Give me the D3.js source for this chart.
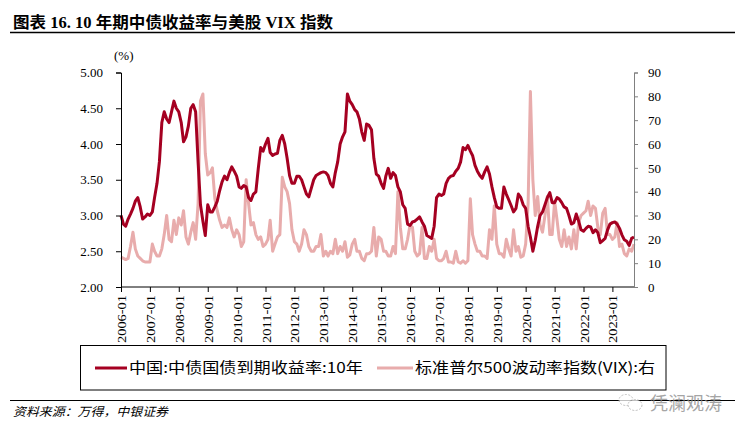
<!DOCTYPE html>
<html><head><meta charset="utf-8">
<script src="https://cdn.jsdelivr.net/npm/d3@7"></script>
<style>
html,body{margin:0;padding:0;background:#fff;}
svg{display:block;}
</style>
</head><body>
<svg id="c" width="745" height="436"></svg>
<script>
// ---- data ----
const startMonth = "2006-01";
// China 10Y government bond yield (%), monthly, 2006-01 .. 2023-10
const cnYield = [
 3.00,2.88,2.85,2.95,3.02,3.10,3.20,3.25,3.12,2.95,2.98,3.02,
 3.00,3.05,3.25,3.45,3.75,4.30,4.45,4.35,4.30,4.45,4.60,4.50,
 4.45,4.30,4.03,4.10,4.25,4.50,4.55,4.45,3.75,3.15,2.92,2.72,
 3.15,3.05,3.05,3.12,3.20,3.35,3.47,3.55,3.50,3.60,3.68,3.62,
 3.55,3.40,3.38,3.42,3.40,3.25,3.21,3.30,3.33,3.65,3.95,3.90,
 4.00,4.08,3.88,3.84,3.86,3.87,4.05,4.12,4.00,3.80,3.56,3.45,
 3.45,3.55,3.55,3.50,3.40,3.30,3.26,3.38,3.50,3.56,3.58,3.60,
 3.61,3.60,3.56,3.45,3.40,3.60,3.75,4.00,4.10,4.17,4.70,4.60,
 4.55,4.48,4.45,4.35,4.17,4.05,4.28,4.26,4.20,3.80,3.58,3.55,
 3.45,3.38,3.55,3.66,3.52,3.60,3.56,3.40,3.33,3.15,3.10,2.88,
 2.86,2.91,2.92,2.95,2.98,2.91,2.85,2.72,2.70,2.68,2.85,3.25,
 3.30,3.28,3.30,3.45,3.52,3.55,3.56,3.62,3.66,3.75,3.95,3.92,
 3.98,3.90,3.84,3.70,3.62,3.56,3.52,3.61,3.68,3.58,3.40,3.25,
 3.12,3.10,3.10,3.40,3.30,3.22,3.14,3.05,3.10,3.30,3.25,3.15,
 3.10,2.85,2.70,2.50,2.65,2.85,3.00,3.05,3.15,3.25,3.32,3.18,
 3.18,3.25,3.23,3.18,3.12,3.10,3.00,2.88,2.90,3.02,2.92,2.80,
 2.78,2.82,2.85,2.84,2.76,2.80,2.76,2.62,2.65,2.68,2.80,2.88,
 2.90,2.91,2.88,2.82,2.73,2.66,2.64,2.58,2.68,2.70
];
// S&P 500 volatility index (VIX), monthly, 2006-01 .. 2023-10
const vix = [
 12.5,12,11.5,12,17,23,16,13,12,11,10.5,10.5,
 10.5,18,15,13,13,16,22,30,20,19,28,22,
 29,26,32,21,18,23,27,20,35,78,81,56,
 47,48,50,37,32,28,25,26,25,29,24,21,
 24,22,17,19,45,35,26,27,22,20,21,17,
 18,20,28,15,18,21,22,46,42,40,35,24,
 19,18,15,18,24,22,17,15,15,17,17,22,
 13,15,13,15,14,20,14,17,15,19,12.5,13.5,
 18,20,15,15,12,11,14,14,15,25,13,21,
 20,15,15,13,13,17,14,40,25,16,16,20,
 26,25,15,13,14,25,12,12,17,15,20,12,
 11,11,12,15,10.5,10.5,10,15,10.5,10,11,10,
 11,37,22,18,15,15,13,13,12,24,20,34,
 18,14,14,12.5,20,16,13,24,15,17,12.5,13,
 18,35,82,45,30,38,26,23,30,38,22,22,
 36,28,20,17,24,17,21,16,24,16,27,30,
 31,32,36,30,34,33,25,22,31,33,22,22,
 20,21,27,17,18,14,13,16,15,18
];
const xTickLabels = ["2006-01","2007-01","2008-01","2009-01","2010-01","2011-01","2012-01","2013-01","2014-01","2015-01","2016-01","2017-01","2018-01","2019-01","2020-01","2021-01","2022-01","2023-01"];
const leftTicks = [2.0,2.5,3.0,3.5,4.0,4.5,5.0];
const rightTicks = [0,10,20,30,40,50,60,70,80,90];
const legendLabels = ["中国:中债国债到期收益率:10年","标准普尔500波动率指数(VIX):右"];
const titleText = "图表 16. 10 年期中债收益率与美股 VIX 指数";
const sourceText = "资料来源：万得，中银证券";

// ---- layout ----
const svg = d3.select("#c");
const L = 121, R = 634, T = 72.5, B = 287;
const parseM = d3.timeParse("%Y-%m");
const d0 = parseM(startMonth);
const dates = cnYield.map((_, i) => d3.timeMonth.offset(d0, i));
const x = d3.scaleTime().domain([d0, dates[dates.length - 1]]).range([L, R]);
const yL = d3.scaleLinear().domain([2, 5]).range([B, T]);
const yR = d3.scaleLinear().domain([0, 90]).range([B, T]);
const serif = "'Liberation Serif','Times New Roman',serif";
const cjk = "'Noto Sans CJK SC','Noto Sans',sans-serif";
const cRed = "#A50021", cPink = "#E8ACAC";

// title
svg.append("text").attr("x", 13).attr("y", 28)
  .attr("font-family", serif + ",'Noto Sans CJK SC'").attr("font-weight", "bold")
  .attr("font-size", 16).attr("textLength", 320).attr("lengthAdjust", "spacingAndGlyphs")
  .text(titleText);
svg.append("line").attr("x1", 10).attr("x2", 735).attr("y1", 32.5).attr("y2", 32.5)
  .attr("stroke", "#000").attr("stroke-width", 1.5);

// unit
svg.append("text").attr("x", 114).attr("y", 60).attr("font-family", serif)
  .attr("font-size", 13).text("(%)");

// lines
const lineV = d3.line().x((d, i) => x(dates[i])).y(d => yR(d));
const lineY = d3.line().x((d, i) => x(dates[i])).y(d => yL(d));
svg.append("path").datum(vix).attr("d", lineV).attr("fill", "none")
  .attr("stroke", cPink).attr("stroke-width", 3).attr("stroke-linejoin", "round");
svg.append("path").datum(cnYield).attr("d", lineY).attr("fill", "none")
  .attr("stroke", cRed).attr("stroke-width", 3).attr("stroke-linejoin", "round");

// axes
const axL = svg.append("g").attr("transform", `translate(${L},0)`)
  .call(d3.axisLeft(yL).tickValues(leftTicks).tickFormat(d3.format(".2f")).tickSizeOuter(0).tickSize(5).tickPadding(13));
axL.selectAll("text").attr("font-family", serif).attr("font-size", 13).attr("fill", "#000");
axL.selectAll("line,path").attr("stroke", "#000");

const axR = svg.append("g").attr("transform", `translate(${R},0)`)
  .call(d3.axisRight(yR).tickValues(rightTicks).tickSizeOuter(0).tickSize(4).tickPadding(10));
axR.selectAll("text").attr("font-family", serif).attr("font-size", 13).attr("fill", "#000");
axR.selectAll("line,path").attr("stroke", "#808080");

const xTickDates = xTickLabels.map(parseM);
const axB = svg.append("g").attr("transform", `translate(0,${B})`)
  .call(d3.axisBottom(x).tickValues(xTickDates).tickFormat(d3.timeFormat("%Y-%m")).tickSizeOuter(0).tickSize(5));
axB.select("path.domain").attr("d", `M${L},0H${R}`).attr("stroke", "#000");
axB.selectAll("line").attr("stroke", "#000");
axB.selectAll("text")
  .attr("font-family", serif).attr("font-size", 13).attr("fill", "#000")
  .attr("transform", "rotate(-90)").attr("text-anchor", "end")
  .attr("x", -8).attr("y", 0).attr("dy", "0.35em")
  .attr("textLength", 48).attr("lengthAdjust", "spacingAndGlyphs");

// legend
svg.append("rect").attr("x", 80.5).attr("y", 345.5).attr("width", 585.5).attr("height", 44.5)
  .attr("fill", "none").attr("stroke", "#000").attr("stroke-width", 1);
const legItems = [
  {c: cRed, x1: 95, x2: 127, tx: 129, tl: 234},
  {c: cPink, x1: 377, x2: 413, tx: 415, tl: 240}
];
legItems.forEach((it, i) => {
  svg.append("line").attr("x1", it.x1).attr("x2", it.x2).attr("y1", 368).attr("y2", 368)
    .attr("stroke", it.c).attr("stroke-width", 3);
  svg.append("text").attr("x", it.tx).attr("y", 368).attr("dy", "0.36em")
    .attr("font-family", cjk).attr("font-size", 15)
    .attr("textLength", it.tl).attr("lengthAdjust", "spacingAndGlyphs")
    .text(legendLabels[i]);
});

// footer
svg.append("line").attr("x1", 10).attr("x2", 735).attr("y1", 400.5).attr("y2", 400.5)
  .attr("stroke", "#000").attr("stroke-width", 1);
svg.append("text").attr("x", 13).attr("y", 416).attr("font-family", cjk)
  .attr("font-style", "italic").attr("font-size", 12)
  .attr("textLength", 155).attr("lengthAdjust", "spacingAndGlyphs")
  .text(sourceText);

// watermark
const wm = svg.append("g").attr("opacity", 0.75);
wm.append("ellipse").attr("cx", 626).attr("cy", 400).attr("rx", 7).attr("ry", 5.5)
  .attr("fill", "#fff").attr("stroke", "#aaa").attr("stroke-width", 1).attr("stroke-dasharray", "2,1.5");
wm.append("ellipse").attr("cx", 635).attr("cy", 405).attr("rx", 7).attr("ry", 5.5)
  .attr("fill", "#fff").attr("stroke", "#aaa").attr("stroke-width", 1).attr("stroke-dasharray", "2,1.5");
wm.append("text").attr("x", 650).attr("y", 410).attr("font-family", cjk)
  .attr("font-size", 18).attr("fill", "#888").text("凭澜观涛");
</script>
</body></html>
